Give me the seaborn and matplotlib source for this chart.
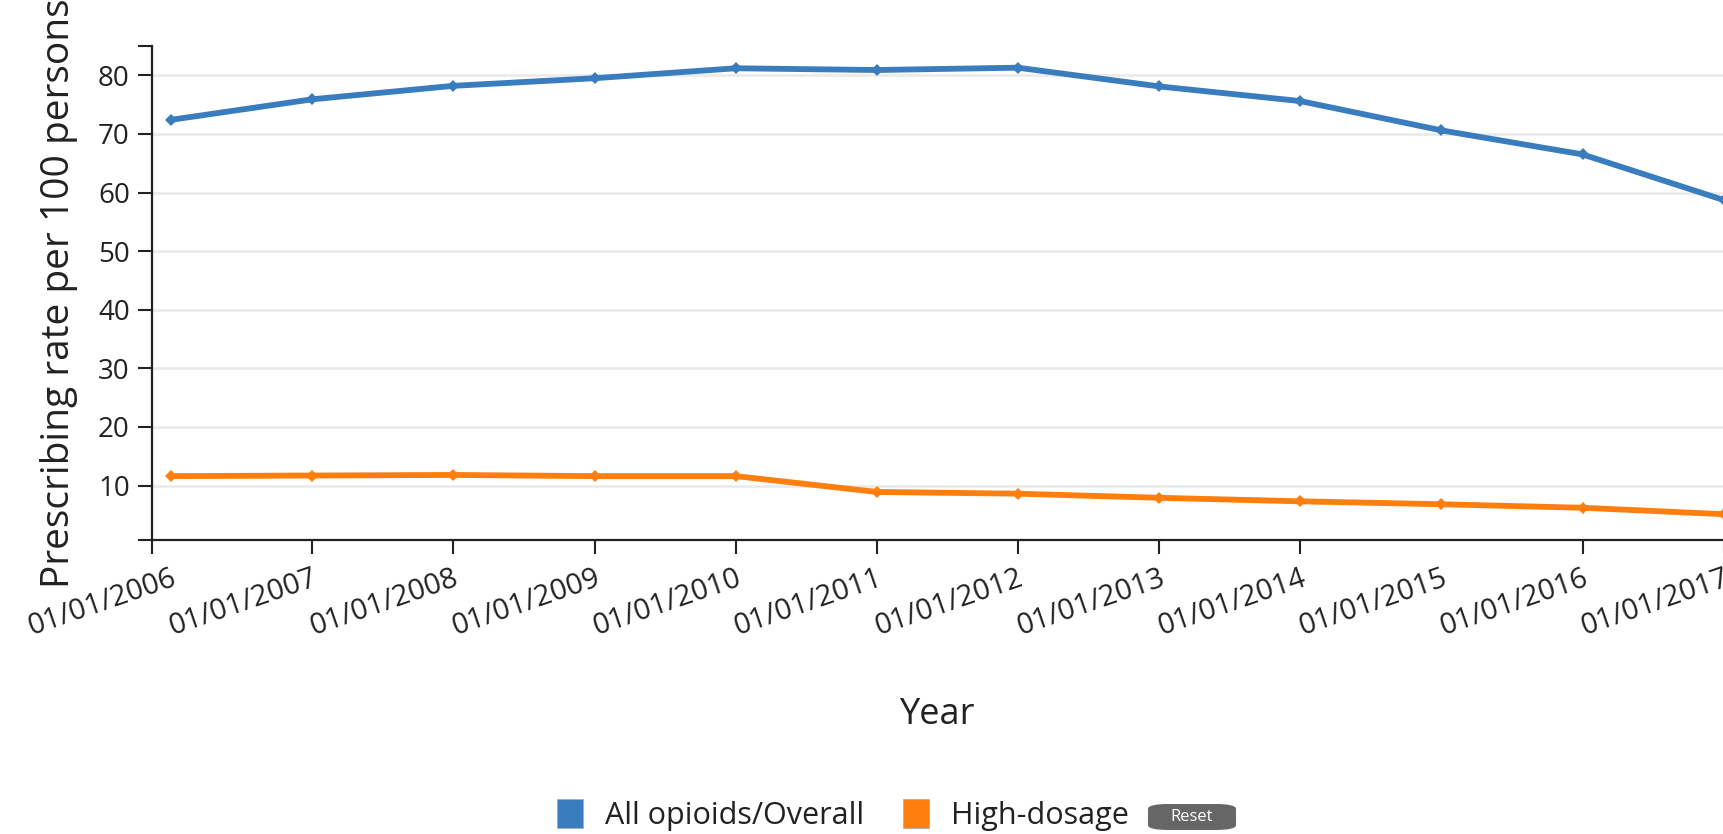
import matplotlib
matplotlib.use("Agg")
import matplotlib.pyplot as plt
import seaborn as sns
import pandas as pd
import numpy as np
from matplotlib.patches import Patch, FancyBboxPatch

# ---- data ----
years = ["2006", "2007", "2008", "2009", "2010", "2011", "2012", "2013",
         "2014", "2015", "2016", "2017"]
all_opioids = [72.4, 75.9, 78.2, 79.5, 81.2, 80.9, 81.3, 78.1, 75.6, 70.6, 66.5, 58.7]
high_dosage = [11.6, 11.7, 11.8, 11.6, 11.6, 8.9, 8.6, 7.9, 7.3, 6.8, 6.2, 5.1]
series_names = ["All opioids/Overall", "High-dosage"]
tick_labels = ["01/01/" + y for y in years]
y_ticks = [10, 20, 30, 40, 50, 60, 70, 80]

colors = {"All opioids/Overall": "#3a7dbf", "High-dosage": "#ff7f0e"}

dates = pd.to_datetime([f"{y}-01-01" for y in years])
df = pd.DataFrame({
    "Year": list(dates) * 2,
    "value": all_opioids + high_dosage,
    "series": [series_names[0]] * len(years) + [series_names[1]] * len(years),
})

sns.set_theme(style="white")
plt.rcParams["font.family"] = ["Open Sans", "DejaVu Sans"]

fig = plt.figure(figsize=(17.24, 8.34), dpi=100)
ax = fig.add_axes([152 / 1724, 1 - 540 / 834, 1 - 152 / 1724, (540 - 46) / 834])

sns.lineplot(data=df, x="Year", y="value", hue="series", palette=colors,
             marker="D", markersize=6, markeredgewidth=0, linewidth=4.2,
             ax=ax, legend=False, clip_on=True)

x_left = dates[0] - pd.Timedelta(days=49)
y_lo, y_hi = 0.7, 85
ax.set_xlim(x_left, dates[-1])
ax.set_ylim(y_lo, y_hi)

ax.set_xticks(list(dates))
ax.set_xticklabels(tick_labels, rotation=19, ha="right", rotation_mode="anchor",
                   fontsize=21, color="#222222")
ax.set_yticks(y_ticks)
ax.set_yticklabels([str(v) for v in y_ticks], fontsize=20, color="#222222")
# outer (domain-end) ticks, as drawn in the reference
ax.set_xticks([x_left], minor=True)
ax.set_yticks([y_lo, y_hi], minor=True)

ax.tick_params(axis="both", which="both", direction="out", length=10, width=1.5,
               color="#222222", bottom=True, left=True)
ax.tick_params(axis="y", which="major", pad=6)
ax.tick_params(axis="x", which="major", pad=7)
# no tick mark at the first data date nor at 2015 in the reference
for i, t in enumerate(ax.xaxis.get_major_ticks()):
    if years[i] in ("2006", "2015"):
        t.tick1line.set_visible(False)

ax.grid(axis="y", which="major", color="#ebebeb", linewidth=2)
ax.grid(axis="x", visible=False)
ax.grid(axis="y", which="minor", visible=False)
for s in ["top", "right"]:
    ax.spines[s].set_visible(False)
for s in ["left", "bottom"]:
    ax.spines[s].set_color("#222222")
    ax.spines[s].set_linewidth(1.6)

ax.set_xlabel("Year", fontsize=26, color="#222222", labelpad=40)
ax.set_ylabel("Prescribing rate per 100 persons", fontsize=28, color="#222222")
ax.yaxis.set_label_coords(-0.047, 0.5)

# legend at the bottom
handles = [Patch(facecolor=colors[n], edgecolor="#aaaaaa", linewidth=0.5) for n in series_names]
fig.legend(handles, series_names, loc="center", bbox_to_anchor=(843 / 1724, 1 - 815 / 834),
           ncol=2, frameon=False, fontsize=22, handlelength=0.85, handleheight=1.1,
           handletextpad=0.7, columnspacing=1.3, labelcolor="#222222")

# "Reset" button
btn = FancyBboxPatch((1148 / 1724, 1 - 830 / 834), 88 / 1724, 26 / 834,
                     boxstyle="round,pad=0,rounding_size=0.012",
                     transform=fig.transFigure, facecolor="#666666", edgecolor="none",
                     mutation_aspect=834 / 1724 * 1.0)
fig.patches.append(btn)
fig.text(1192 / 1724, 1 - 817 / 834, "Reset", color="white", fontsize=12,
         ha="center", va="center")

fig.savefig("out.png", dpi=100)
